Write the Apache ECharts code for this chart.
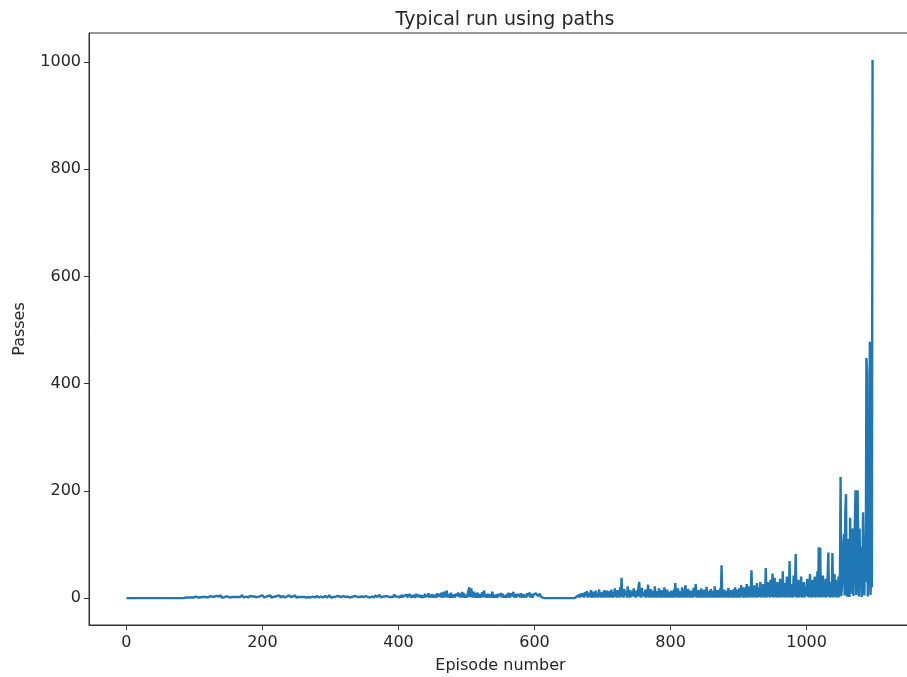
<!DOCTYPE html>
<html lang="en">

<head>
  <meta charset="UTF-8">
  <script type="text/javascript" src="https://cdn.jsdelivr.net/npm/echarts@6/dist/echarts.min.js"></script>
  <title>Typical run using paths</title>
  <style>
    html, body {
      margin: 0;
      padding: 0;
      background-color: #fff;
    }

    #chart {
      width: 907px;
      height: 677px;
    }
  </style>
</head>

<body>
  <div id="chart"></div>
  <script>
    // passes per episode, one block per 100 episodes
    let passes0 = [
      0, 0, 0, 0, 0, 0, 0, 0, 0, 0, 0, 0, 0, 0, 0, 0, 0, 0, 0, 0,
      0, 0, 0, 0, 0, 0, 0, 0, 0, 0, 0, 0, 0, 0, 0, 0, 0, 0, 0, 0,
      0, 0, 0, 0, 0, 0, 0, 0, 0, 0, 0, 0, 0, 0, 0, 0, 0, 0, 0, 0,
      0, 0, 0, 0, 0, 0, 0, 0, 0, 0, 0, 0, 0, 0, 0, 0, 0, 0, 0, 0,
      0, 0, 0, 0, 0, 1, 2, 1, 3, 2, 1, 2, 3, 1, 2, 2, 1, 3, 2, 1
    ];
    let passes1 = [
      2, 1, 3, 2, 4, 1, 2, 3, 1, 2, 3, 2, 1, 4, 2, 3, 1, 2, 5, 2,
      1, 3, 2, 2, 4, 1, 3, 2, 1, 2, 3, 1, 2, 4, 2, 1, 3, 2, 2, 5,
      1, 2, 3, 1, 4, 2, 3, 1, 2, 3, 2, 4, 1, 2, 3, 2, 1, 5, 2, 3,
      4, 2, 1, 3, 2, 4, 1, 2, 3, 2, 5, 3, 2, 1, 4, 2, 3, 2, 6, 1,
      3, 2, 4, 2, 1, 3, 5, 2, 3, 1, 4, 2, 3, 5, 2, 1, 3, 4, 2, 3
    ];
    let passes2 = [
      5, 2, 3, 1, 4, 2, 3, 2, 1, 4, 2, 3, 5, 1, 2, 3, 2, 4, 1, 3,
      2, 1, 4, 2, 3, 5, 2, 1, 3, 2, 4, 2, 3, 1, 2, 4, 3, 2, 1, 5,
      2, 3, 2, 4, 1, 3, 2, 2, 5, 3, 1, 2, 4, 2, 3, 1, 2, 3, 4, 2,
      1, 3, 2, 5, 2, 1, 3, 4, 2, 3, 2, 1, 4, 2, 3, 2, 5, 1, 3, 2,
      4, 3, 2, 1, 2, 4, 3, 5, 2, 1, 3, 2, 4, 2, 3, 1, 2, 3, 5, 2
    ];
    let passes3 = [
      3, 1, 2, 4, 2, 3, 1, 2, 3, 2, 4, 2, 1, 3, 2, 5, 2, 3, 1, 4,
      2, 3, 2, 1, 4, 3, 2, 5, 1, 2, 3, 2, 4, 1, 3, 2, 2, 4, 3, 1,
      2, 5, 3, 2, 4, 1, 3, 2, 6, 2, 3, 1, 4, 2, 3, 2, 5, 3, 1, 4,
      2, 3, 2, 4, 1, 3, 5, 2, 3, 2, 4, 2, 6, 3, 1, 2, 4, 3, 2, 5,
      3, 2, 1, 4, 3, 6, 2, 3, 4, 2, 5, 3, 2, 4, 7, 3, 2, 4, 3, 5
    ];
    let passes4 = [
      3, 1, 2, 5, 1, 6, 2, 4, 1, 5, 2, 4, 6, 1, 5, 2, 4, 7, 1, 5,
      4, 1, 6, 3, 5, 1, 8, 3, 1, 4, 6, 1, 5, 4, 7, 1, 5, 6, 1, 8,
      3, 1, 6, 4, 9, 1, 3, 6, 1, 7, 5, 8, 1, 6, 3, 7, 1, 9, 4, 1,
      5, 7, 1, 10, 6, 1, 5, 12, 2, 4, 9, 14, 1, 7, 4, 8, 1, 10, 5, 1,
      4, 6, 9, 1, 8, 4, 1, 5, 10, 2, 8, 1, 7, 5, 11, 1, 9, 5, 1, 6
    ];
    let passes5 = [
      7, 1, 9, 12, 20, 2, 6, 18, 10, 1, 8, 12, 1, 9, 5, 1, 10, 6, 1, 4,
      7, 1, 5, 11, 2, 8, 14, 1, 7, 9, 1, 8, 5, 1, 7, 4, 9, 1, 12, 5,
      1, 6, 9, 1, 7, 10, 1, 8, 4, 1, 6, 9, 1, 8, 7, 1, 5, 6, 1, 4,
      8, 1, 10, 5, 1, 9, 4, 1, 6, 11, 1, 7, 9, 1, 8, 4, 1, 5, 7, 1,
      9, 5, 1, 4, 7, 1, 6, 8, 1, 9, 4, 1, 6, 10, 1, 8, 6, 1, 4, 7
    ];
    let passes6 = [
      8, 5, 9, 6, 10, 4, 7, 5, 8, 3, 6, 2, 1, 0, 0, 0, 0, 0, 0, 0,
      0, 0, 0, 0, 0, 0, 0, 0, 0, 0, 0, 0, 0, 0, 0, 0, 0, 0, 0, 0,
      0, 0, 0, 0, 0, 0, 0, 0, 0, 0, 0, 0, 0, 0, 0, 0, 0, 0, 0, 0,
      0, 1, 3, 6, 2, 5, 1, 8, 3, 1, 9, 2, 6, 1, 11, 4, 2, 13, 1, 7,
      3, 10, 2, 15, 1, 5, 12, 2, 8, 1, 14, 3, 9, 1, 6, 16, 2, 11, 1, 7
    ];
    let passes7 = [
      2, 12, 1, 15, 4, 9, 1, 14, 3, 8, 1, 13, 2, 16, 5, 1, 11, 3, 18, 2,
      9, 1, 15, 4, 12, 1, 20, 3, 38, 2, 10, 1, 17, 5, 2, 13, 1, 22, 3, 8,
      1, 15, 2, 11, 4, 1, 18, 2, 9, 1, 14, 3, 6, 1, 30, 2, 12, 1, 19, 4,
      1, 10, 2, 16, 1, 8, 3, 25, 1, 12, 2, 17, 1, 9, 4, 14, 1, 22, 2, 7,
      1, 13, 3, 18, 1, 9, 2, 15, 1, 11, 4, 20, 1, 8, 2, 16, 1, 12, 3, 10
    ];
    let passes8 = [
      1, 14, 2, 9, 1, 16, 3, 28, 1, 12, 2, 18, 1, 8, 4, 13, 1, 20, 2, 10,
      1, 15, 24, 2, 9, 1, 17, 3, 12, 1, 14, 2, 8, 1, 19, 3, 11, 26, 1, 7,
      2, 15, 1, 10, 3, 18, 1, 12, 2, 16, 1, 9, 4, 21, 1, 13, 2, 8, 1, 17,
      3, 11, 1, 14, 2, 22, 1, 9, 3, 15, 1, 12, 2, 18, 1, 61, 2, 10, 1, 16,
      3, 8, 1, 14, 2, 19, 1, 11, 4, 15, 1, 9, 2, 17, 1, 20, 3, 12, 1, 16
    ];
    let passes9 = [
      2, 18, 1, 12, 24, 3, 9, 1, 20, 2, 14, 1, 26, 3, 16, 1, 22, 2, 10, 52,
      1, 18, 3, 24, 1, 14, 2, 28, 1, 11, 20, 2, 30, 1, 16, 3, 26, 1, 12, 2,
      56, 1, 22, 30, 3, 14, 1, 34, 2, 18, 46, 1, 12, 38, 2, 20, 1, 30, 3, 16,
      1, 36, 2, 24, 1, 50, 3, 18, 1, 28, 2, 40, 1, 20, 3, 69, 1, 26, 2, 14,
      1, 42, 3, 22, 82, 1, 18, 2, 34, 1, 24, 3, 40, 1, 16, 2, 30, 1, 20, 4
    ];
    let passes10 = [
      1, 36, 2, 28, 1, 45, 3, 22, 1, 34, 2, 18, 40, 1, 26, 3, 50, 1, 95, 2,
      94, 1, 30, 3, 42, 1, 24, 2, 36, 1, 18, 40, 85, 2, 30, 1, 22, 3, 84, 1,
      28, 45, 2, 34, 1, 20, 3, 40, 1, 26, 226, 4, 20, 60, 100, 120, 5, 164, 194, 10,
      3, 110, 80, 2, 150, 60, 8, 130, 90, 4, 100, 140, 201, 6, 30, 201, 110, 3, 130, 20,
      95, 2, 25, 160, 80, 5, 115, 30, 448, 420, 3, 60, 30, 478, 6, 40, 20, 1004
    ];

    let xTicks = [0, 200, 400, 600, 800, 1000];
    let yTicks = [0, 200, 400, 600, 800, 1000];

    let passes = [].concat(passes0, passes1, passes2, passes3, passes4, passes5,
      passes6, passes7, passes8, passes9, passes10);
    let points = passes.map((v, i) => [i, v]); // [episode, passes]

    let chart = echarts.init(document.getElementById('chart'));
    let txt = '#262626';
    let font = 'DejaVu Sans';

    chart.setOption({
      animation: false,
      backgroundColor: '#fff',
      title: {
        text: 'Typical run using paths',
        left: 500,
        textAlign: 'center',
        top: 6,
        textStyle: { fontFamily: font, fontSize: 19, fontWeight: 'normal', color: txt }
      },
      grid: {
        left: 89,
        top: 33,
        width: 823,
        height: 592,
        outerBoundsMode: 'none', // keep the box where it is, labels may sit near the edge
        show: true,
        borderColor: '#333',
        borderWidth: 1
      },
      xAxis: {
        type: 'value',
        min: -55,
        max: 1155,
        name: 'Episode number',
        nameLocation: 'middle',
        nameGap: 33,
        nameTextStyle: { fontFamily: font, fontSize: 16, color: txt },
        splitLine: { show: false },
        axisLine: { onZero: false, lineStyle: { color: '#333' } },
        axisTick: { customValues: xTicks, length: 5, lineStyle: { color: '#333' } },
        axisLabel: {
          customValues: xTicks, margin: 10, fontFamily: font, fontSize: 16, color: txt,
          formatter: (v) => String(v)
        }
      },
      yAxis: {
        type: 'value',
        min: -50.2,
        max: 1054.2,
        name: 'Passes',
        nameLocation: 'middle',
        nameGap: 61,
        nameTextStyle: { fontFamily: font, fontSize: 16, color: txt },
        splitLine: { show: false },
        axisLine: { show: true, onZero: false, lineStyle: { color: '#333' } },
        axisTick: { show: true, customValues: yTicks, length: 5, lineStyle: { color: '#333' } },
        axisLabel: {
          customValues: yTicks, margin: 8, fontFamily: font, fontSize: 16, color: txt,
          formatter: (v) => String(v)
        }
      },
      series: [
        {
          type: 'line',
          data: points,
          showSymbol: false,
          lineStyle: { color: '#1f77b4', width: 2.4 }
        }
      ]
    });
  </script>

</body>

</html>
